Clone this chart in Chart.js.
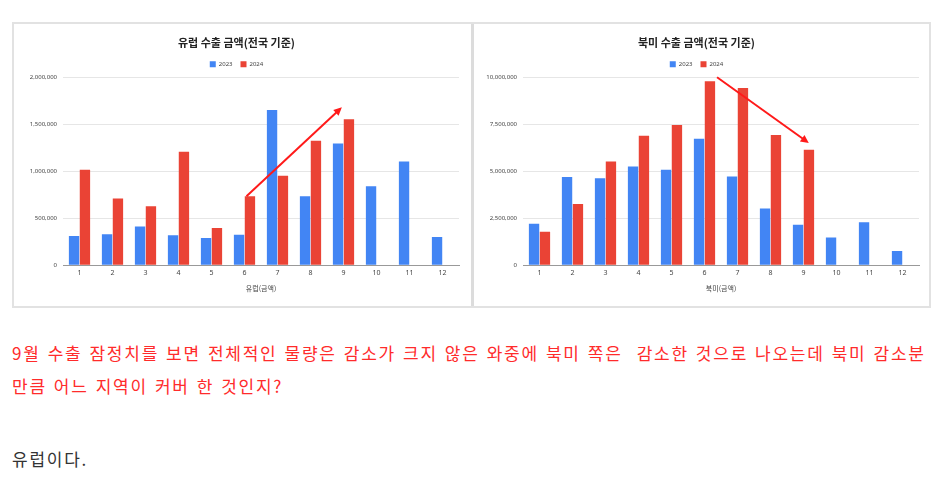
<!DOCTYPE html>
<html>
<head>
<meta charset="utf-8">
<script src="https://cdn.jsdelivr.net/npm/chart.js@4.4.0/dist/chart.umd.min.js"></script>
<style>
  body { margin: 0; background: #fff; width: 936px; height: 487px; overflow: hidden; font-family: "Noto Sans CJK KR", sans-serif; }
  #caja { position: absolute; left: 12px; top: 22px; width: 915px; height: 282px; border: 2px solid #e2e2e2; }
  #sep { position: absolute; left: 457px; top: 0; width: 3px; height: 282px; background: #dcdcdc; }
  .grafico { position: absolute; top: 0; width: 456px; height: 282px; }
  #g1 { left: 0; }
  #g2 { left: 460px; }
  .texto { position: absolute; left: 12px; font-size: 17px; letter-spacing: 1.75px; word-spacing: 1.5px; white-space: nowrap; }
  .rojo { color: #ff2b2b; }
</style>
</head>
<body>
<div id="caja">
  <div class="grafico" id="g1"><canvas id="graficoEuropa"></canvas></div>
  <div id="sep"></div>
  <div class="grafico" id="g2"><canvas id="graficoNorteamerica"></canvas></div>
</div>
<div class="texto rojo" style="top:340px">9월 수출 잠정치를 보면 전체적인 물량은 감소가 크지 않은 와중에 북미 쪽은&nbsp; 감소한 것으로 나오는데 북미 감소분</div>
<div class="texto rojo" style="top:373px">만큼 어느 지역이 커버 한 것인지?</div>
<div class="texto" style="top:446px; color:#333">유럽이다.</div>

<script>
const meses = ["1", "2", "3", "4", "5", "6", "7", "8", "9", "10", "11", "12"];

const europa2023 = [310000, 328000, 413000, 318000, 289000, 325000, 1651000, 733000, 1294000, 839000, 1104000, 300000];
const europa2024 = [1016000, 709000, 628000, 1206000, 395000, 733000, 952000, 1323000, 1552000, null, null, null];

const norteamerica2023 = [2210000, 4690000, 4620000, 5250000, 5080000, 6720000, 4720000, 3020000, 2150000, 1480000, 2290000, 760000];
const norteamerica2024 = [1780000, 3260000, 5520000, 6880000, 7460000, 9790000, 9430000, 6930000, 6140000, null, null, null];

// flechas: [indice inicio, valor inicio, indice fin, valor fin]
const flechaEuropa = [5.06, 733000, 7.95, 1680000];
const flechaNorteamerica = [5.38, 10000000, 8.16, 6500000];

const COLORES = {
  azul: '#4285f4',
  rojo: '#ea4335',
  flecha: '#ff1a1a'
};

const pluginFlecha = {
  id: 'flecha',
  afterDatasetsDraw(chart, args, opts) {
    const f = opts.puntos;
    if (!f) return;
    const x = chart.scales.x, y = chart.scales.y;
    const paso = x.getPixelForValue(1) - x.getPixelForValue(0);
    const x1 = x.getPixelForValue(0) + f[0] * paso;
    const y1 = y.getPixelForValue(f[1]);
    const x2 = x.getPixelForValue(0) + f[2] * paso;
    const y2 = y.getPixelForValue(f[3]);
    const ctx = chart.ctx;
    const ang = Math.atan2(y2 - y1, x2 - x1);
    const largo = 9;
    ctx.save();
    ctx.strokeStyle = COLORES.flecha;
    ctx.fillStyle = COLORES.flecha;
    ctx.lineWidth = 2;
    ctx.beginPath();
    ctx.moveTo(x1, y1);
    ctx.lineTo(x2 - Math.cos(ang) * largo * 0.8, y2 - Math.sin(ang) * largo * 0.8);
    ctx.stroke();
    ctx.beginPath();
    ctx.moveTo(x2, y2);
    ctx.lineTo(x2 - largo * Math.cos(ang - 0.45), y2 - largo * Math.sin(ang - 0.45));
    ctx.lineTo(x2 - largo * Math.cos(ang + 0.45), y2 - largo * Math.sin(ang + 0.45));
    ctx.closePath();
    ctx.fill();
    ctx.restore();
  }
};

function crearGrafico(id, titulo, ejeX, datos2023, datos2024, maximo, paso, flecha) {
  return new Chart(document.getElementById(id), {
    type: 'bar',
    data: {
      labels: meses,
      datasets: [
        { label: '2023', data: datos2023, backgroundColor: COLORES.azul },
        { label: '2024', data: datos2024, backgroundColor: COLORES.rojo }
      ]
    },
    options: {
      responsive: true,
      maintainAspectRatio: false,
      animation: false,
      categoryPercentage: 0.66,
      barPercentage: 0.95,
      layout: { padding: { top: 8, right: 11, left: 0, bottom: 9 } },
      plugins: {
        title: {
          display: true,
          text: titulo,
          color: '#222',
          font: { family: 'Noto Sans CJK KR', size: 11, weight: 'bold' },
          padding: { top: 4, bottom: 4 }
        },
        legend: {
          labels: {
            boxWidth: 6,
            boxHeight: 6,
            padding: 8,
            color: '#444',
            font: { family: 'Noto Sans', size: 6 }
          }
        },
        tooltip: { enabled: false },
        flecha: { puntos: flecha }
      },
      scales: {
        x: {
          grid: { display: false, drawTicks: false },
          border: { color: '#999' },
          ticks: { color: '#444', font: { family: 'Noto Sans', size: 7 }, padding: 4 },
          title: { display: true, text: ejeX, color: '#444', font: { family: 'Noto Sans CJK KR', size: 7 }, padding: { top: 3, bottom: 4 } }
        },
        y: {
          min: 0,
          max: maximo,
          ticks: {
            stepSize: paso,
            color: '#444',
            font: { family: 'Noto Sans', size: 6 },
            padding: 6,
            callback: (v) => v.toLocaleString('en-US')
          },
          grid: { color: '#e6e6e6', drawTicks: false },
          border: { display: false },
          afterFit: (escala) => { escala.width = 49; }
        }
      }
    },
    plugins: [pluginFlecha]
  });
}

crearGrafico('graficoEuropa', '유럽 수출 금액(전국 기준)', '유럽(금액)', europa2023, europa2024, 2000000, 500000, flechaEuropa);
crearGrafico('graficoNorteamerica', '북미 수출 금액(전국 기준)', '북미(금액)', norteamerica2023, norteamerica2024, 10000000, 2500000, flechaNorteamerica);
</script>
</body>
</html>
